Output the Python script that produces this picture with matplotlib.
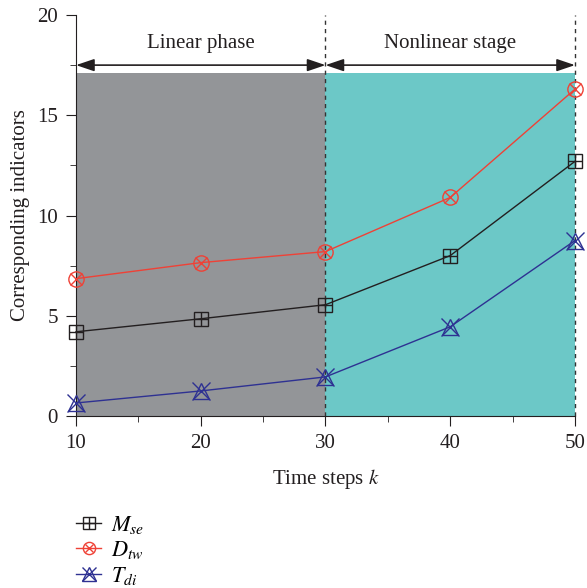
import numpy as np
import matplotlib
matplotlib.use("Agg")
import matplotlib.pyplot as plt

plt.rcParams["font.family"] = "Liberation Serif"
plt.rcParams["mathtext.fontset"] = "stix"

# data
steps = [10, 20, 30, 40, 50]
m_se = [4.2, 4.85, 5.55, 8.0, 12.7]
d_tw = [6.85, 7.65, 8.2, 10.9, 16.3]
t_di = [0.65, 1.25, 1.95, 4.45, 8.75]

phases = ["Linear phase", "Nonlinear stage"]
phase_bounds = [10, 30, 50]
phase_colors = ["#939598", "#6cc8c7"]
shade_top = 17.1
arrow_y = 17.5

c_black = "#231f20"
c_red = "#ef4136"
c_blue = "#2e3192"

fig = plt.figure(figsize=(5.87, 5.88), dpi=100)
ax = fig.add_axes([0.1295, 0.2925, 0.85, 0.682])

for i in range(2):
    ax.fill_between([phase_bounds[i], phase_bounds[i + 1]], 0, shade_top,
                    color=phase_colors[i], lw=0, zorder=0)
    ax.annotate("", xy=(phase_bounds[i], arrow_y), xytext=(phase_bounds[i + 1], arrow_y),
                arrowprops=dict(arrowstyle="<|-|>,head_length=0.65,head_width=0.22",
                                color="#231f20", lw=1.2, mutation_scale=17,
                                shrinkA=0, shrinkB=0), annotation_clip=False)
    ax.text((phase_bounds[i] + phase_bounds[i + 1]) / 2, 18.6, phases[i],
            ha="center", va="center", fontsize=15, color="#231f20")

for xb in phase_bounds[1:]:
    ax.plot([xb, xb], [0, 20], ls=(0, (3, 3)), color="#333333", lw=1.0, zorder=1, clip_on=False)

ms = 10
kw = dict(clip_on=False, zorder=3)
l1, = ax.plot(steps, m_se, color=c_black, lw=1, marker="s", ms=ms, mfc="none", mec=c_black, mew=1, **kw)
p1, = ax.plot(steps, m_se, ls="none", marker="+", ms=ms, mec=c_black, mew=1, **kw)
l2, = ax.plot(steps, d_tw, color=c_red, lw=1, marker="o", ms=ms + 1, mfc="none", mec=c_red, mew=1, **kw)
p2, = ax.plot(steps, d_tw, ls="none", marker="x", ms=ms - 2, mec=c_red, mew=1, **kw)
l3, = ax.plot(steps, t_di, color=c_blue, lw=1, marker="^", ms=ms + 2, mfc="none", mec=c_blue, mew=1, **kw)
p3, = ax.plot(steps, t_di, ls="none", marker="x", ms=ms + 3, mec=c_blue, mew=1, **kw)

ax.set_xlim(10, 50)
ax.set_ylim(0, 20)
ax.set_xticks([10, 20, 30, 40, 50])
ax.set_xticks([15, 25, 35, 45], minor=True)
ax.set_yticks([0, 5, 10, 15, 20])
ax.set_yticks([2.5, 7.5, 12.5, 17.5], minor=True)
ax.tick_params(axis="both", which="major", direction="out", length=7, labelsize=15, colors="#231f20", pad=6)
ax.tick_params(axis="both", which="minor", direction="out", length=4, colors="#231f20")
ax.spines["top"].set_visible(False)
ax.spines["right"].set_visible(False)
for s in ["left", "bottom"]:
    ax.spines[s].set_color("#231f20")
ax.set_xlabel("Time steps $k$", fontsize=15, color="#231f20", labelpad=10)
ax.set_ylabel("Corresponding indicators", fontsize=15, color="#231f20", labelpad=5)

fig.legend([(l1, p1), (l2, p2), (l3, p3)],
           ["$M_{se}$", "$D_{tw}$", "$T_{di}$"],
           loc="upper left", bbox_to_anchor=(0.095, 0.16), frameon=False,
           fontsize=16, handlelength=1.15, labelspacing=0.15, handletextpad=0.45,
           markerscale=0.8)

fig.savefig("out.png", dpi=100)
